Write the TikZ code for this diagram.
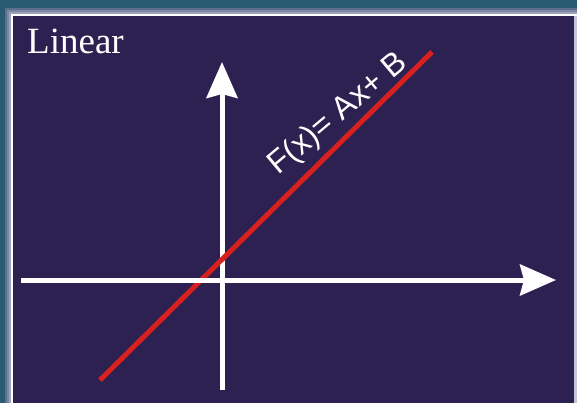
\documentclass[tikz,border=0pt]{standalone}
\usepackage{fontspec}
\setmainfont{Liberation Serif}
\newfontfamily\graphfont{Liberation Sans}
\usetikzlibrary{arrows.meta}
\definecolor{slideteal}{HTML}{285A70}
\definecolor{bandA}{HTML}{5E6E8C}
\definecolor{bandB}{HTML}{7C86A4}
\definecolor{bandC}{HTML}{9AA2BC}
\definecolor{panel}{HTML}{2C2150}
\definecolor{redline}{HTML}{D8201E}
\tikzset{
  axis/.style={white, line width=5pt, -{Stealth[length=36pt, width=31pt, inset=4pt]}},
  fnline/.style={redline, line width=5pt}
}
\begin{document}
\begin{tikzpicture}[x=1pt, y=-1pt]
\useasboundingbox (0,0) rectangle (577,403);
% slide frame
\fill[slideteal] (0,0) rectangle (577,403);
\fill[bandA] (5,8) rectangle (577,403);
\fill[bandB] (7,10) rectangle (577,403);
\fill[bandC] (9,12) rectangle (577,403);
\fill[white] (11,14) rectangle (577,403);
\fill[panel] (13,16) rectangle (574,403);
\fill[bandC!60!white] (574,16) rectangle (577,403);

\node[anchor = base west, inner sep=0pt, white, font=\fontsize{37}{40}\selectfont] (title) at (27,54) {Linear};

\coordinate (ybot) at (222,390);
\coordinate (ytop) at (222,62);
\coordinate (xleft) at (21,280);
\coordinate (xright) at (556,280);
\coordinate (lo) at (100,380);
\coordinate (hi) at (432,52);

\draw[axis] (ybot) -- (ytop);
\draw[fnline] (lo) -- (hi);
\draw[axis] (xleft) -- (xright);

\node[anchor = base west, inner sep=0pt, white, rotate=40, font=\graphfont\fontsize{32}{35}\selectfont] (fx) at (278,176) {F(x)= Ax+ B};
\end{tikzpicture}
\end{document}
